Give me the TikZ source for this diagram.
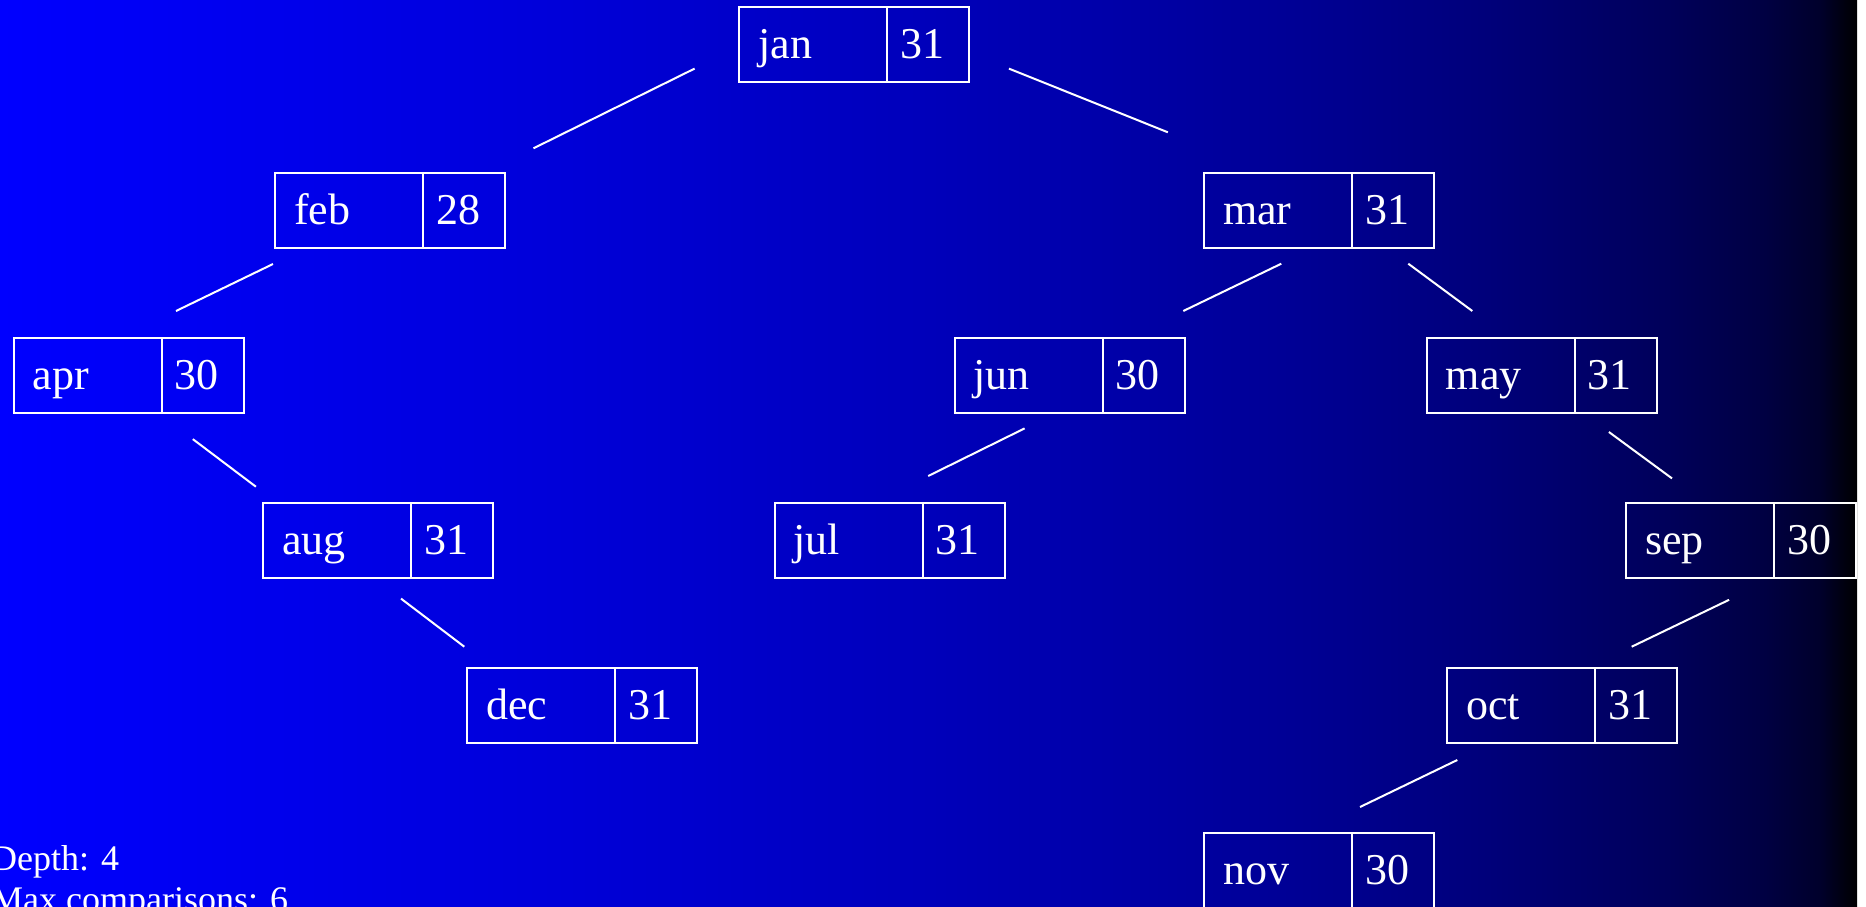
\documentclass[tikz,border=0pt]{standalone}
\usepackage{fontspec}
\setmainfont{Liberation Serif}
\usepackage{tikz}
\usetikzlibrary{positioning}

% fondo: azul a negro
\pgfdeclarehorizontalshading{fondo}{100bp}{color(0bp)=(blue); color(25bp)=(blue);
  color(30bp)=(blue!95!black); color(35bp)=(blue!90!black); color(40bp)=(blue!85!black);
  color(45bp)=(blue!79!black); color(50bp)=(blue!73!black); color(55bp)=(blue!66!black);
  color(60bp)=(blue!58!black); color(65bp)=(blue!48!black); color(70bp)=(blue!35!black);
  color(72.5bp)=(blue!26!black); color(74bp)=(blue!17!black); color(75bp)=(black);
  color(100bp)=(black)}

\begin{document}
\begin{tikzpicture}[x=1pt, y=-1pt,
    mes/.style={draw=white, line width=2pt, text=white, anchor=north west, outer sep=0pt,
      inner xsep=19pt, text width=110pt, align=left, minimum height=75pt,
      text height=28pt, text depth=0pt, font=\fontsize{44}{53}\selectfont},
    dias/.style={mes, inner xsep=13pt, text width=56pt},
    rama/.style={draw=white, line width=2pt},
    nota/.style={text=white, anchor=base west, inner sep=0pt, font=\fontsize{36}{41}\selectfont}
]
\useasboundingbox (0,0) rectangle (1866,906);
\shade[shading=fondo] (0,0) rectangle (1857,906);

% Nodos (posición aproximada)
\node[mes] (jan) at (739.3,7.3) {jan};   \node[dias, right=0pt of jan] (jan-d) {31};
\node[mes] (feb) at (275,173) {feb};     \node[dias, right=0pt of feb] (feb-d) {28};
\node[mes] (mar) at (1204,173) {mar};    \node[dias, right=0pt of mar] (mar-d) {31};
\node[mes] (apr) at (13.7,338) {apr};    \node[dias, right=0pt of apr] (apr-d) {30};
\node[mes] (jun) at (954.5,338) {jun};   \node[dias, right=0pt of jun] (jun-d) {30};
\node[mes] (may) at (1426.8,338) {may};  \node[dias, right=0pt of may] (may-d) {31};
\node[mes] (aug) at (263,503.3) {aug};   \node[dias, right=0pt of aug] (aug-d) {31};
\node[mes] (jul) at (774.7,503.3) {jul}; \node[dias, right=0pt of jul] (jul-d) {31};
\node[mes] (sep) at (1626.3,503.3) {sep};\node[dias, right=0pt of sep] (sep-d) {30};
\node[mes] (dec) at (467.3,668.3) {dec}; \node[dias, right=0pt of dec] (dec-d) {31};
\node[mes] (oct) at (1447,668.3) {oct};  \node[dias, right=0pt of oct] (oct-d) {31};
\node[mes] (nov) at (1204,833.3) {nov};  \node[dias, right=0pt of nov] (nov-d) {30};

% Aristas
\draw[rama] ([shift={(-44.7,-13.7)}]jan.south west) -- ([shift={(258.5,-24.7)}]feb.north west);
\draw[rama] ([shift={(269.6,-13.7)}]jan.south west) -- ([shift={(-36.1,-40.7)}]mar.north west);
\draw[rama] ([shift={(-2,16)}]feb.south west) -- ([shift={(162.3,-27)}]apr.north west);
\draw[rama] ([shift={(77.3,15.7)}]mar.south west) -- ([shift={(228.8,-27)}]jun.north west);
\draw[rama] ([shift={(204.3,15.7)}]mar.south west) -- ([shift={(45.5,-27)}]may.north west);
\draw[rama] ([shift={(179.1,26.1)}]apr.south west) -- ([shift={(-7.1,-16.6)}]aug.north west);
\draw[rama] ([shift={(70.1,15.4)}]jun.south west) -- ([shift={(153.5,-27.3)}]jul.north west);
\draw[rama] ([shift={(182.1,19)}]may.south west) -- ([shift={(45.7,-24.9)}]sep.north west);
\draw[rama] ([shift={(138,20.3)}]aug.south west) -- ([shift={(-3,-21.6)}]dec.north west);
\draw[rama] ([shift={(102.8,21.5)}]sep.south west) -- ([shift={(184.7,-21.6)}]oct.north west);
\draw[rama] ([shift={(10.3,16.7)}]oct.south west) -- ([shift={(156,-26.3)}]nov.north west);

% Texto
\node[nota] (prof) at (-9,870) {Depth: 4};
\node[nota] (comp) at (-9,911) {Max comparisons: 6};

\end{tikzpicture}
\end{document}
